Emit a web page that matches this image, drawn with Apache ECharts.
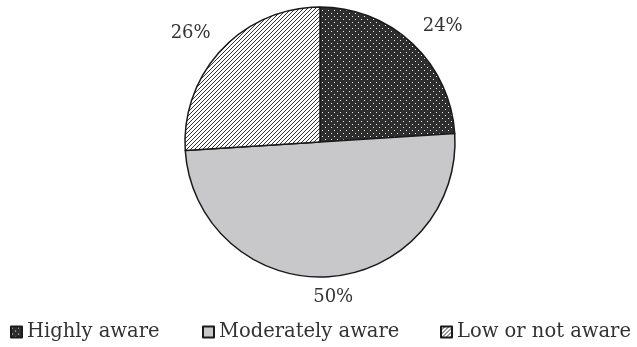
<!DOCTYPE html>
<html>
<head>
<meta charset="utf-8">
<script src="https://cdn.jsdelivr.net/npm/echarts@6/dist/echarts.min.js"></script>
<style>
  html, body { margin: 0; padding: 0; background: #fff; }
  #chart { width: 637px; height: 347px; }
</style>
</head>
<body>
<div id="chart"></div>
<script>
// Awareness levels and their shares (percent)
const categories = ['Highly aware', 'Moderately aware', 'Low or not aware'];
const shares = [24, 50, 26];

const FONT = 'DejaVu Serif';
const CENTER = [320, 142];
const RADIUS = 135;
const LABEL_GAP = 150; // distance from centre to the nearest corner of each value label

// Dotted dark fill
function dotPattern() {
  const c = document.createElement('canvas');
  c.width = 6; c.height = 6;
  const g = c.getContext('2d');
  g.fillStyle = '#2e2e2e';
  g.fillRect(0, 0, 6, 6);
  g.fillStyle = '#ececec';
  g.fillRect(1, 1, 1, 1);
  g.fillRect(4, 4, 1, 1);
  return c;
}

// Diagonal hatch fill
function hatchPattern() {
  const c = document.createElement('canvas');
  c.width = 4; c.height = 4;
  const g = c.getContext('2d');
  g.fillStyle = '#ffffff';
  g.fillRect(0, 0, 4, 4);
  g.strokeStyle = '#333';
  g.lineWidth = 1;
  g.beginPath();
  g.moveTo(-1, 5); g.lineTo(5, -1);
  g.moveTo(-1, 1); g.lineTo(1, -1);
  g.moveTo(3, 5); g.lineTo(5, 3);
  g.stroke();
  return c;
}

const fills = [
  { image: dotPattern(), repeat: 'repeat' },
  '#c8c8ca',
  { image: hatchPattern(), repeat: 'repeat' }
];

// Mid-angle of each slice, clockwise from 12 o'clock (radians)
const total = shares.reduce((a, b) => a + b, 0);
const midAngles = [];
{
  let acc = 0;
  shares.forEach(v => {
    midAngles.push(((acc + v / 2) / total) * Math.PI * 2);
    acc += v;
  });
}

const clamp = (v, lo, hi) => Math.max(lo, Math.min(hi, v));

// Place each value label just outside its slice, with the label's nearest
// corner sitting on the slice's mid ray.
function placeLabel(params) {
  const a = midAngles[params.dataIndex];
  const ux = Math.sin(a), uy = -Math.cos(a);
  const w = params.labelRect.width, h = params.labelRect.height;
  const x = CENTER[0] + LABEL_GAP * ux + clamp(ux * 3, -1, 1) * w / 2;
  const y = CENTER[1] + LABEL_GAP * uy + clamp(uy * 3, -1, 1) * (h / 2 - 3);
  return { x, y, align: 'center', verticalAlign: 'middle' };
}

const legendText = { fontFamily: FONT, fontSize: 19.5, color: '#333', padding: [0, 0, 0, 0] };
const legendAt = [10, 202, 440];

const chart = echarts.init(document.getElementById('chart'), null, { renderer: 'canvas' });
chart.setOption({
  animation: false,
  backgroundColor: '#ffffff',
  legend: categories.map((name, i) => ({
    left: legendAt[i],
    bottom: 5,
    padding: 0,
    icon: 'rect',
    itemWidth: 11,
    itemHeight: 11,
    textStyle: legendText,
    data: [name]
  })),
  series: [{
    type: 'pie',
    center: CENTER,
    radius: [0, RADIUS],
    startAngle: 90,
    clockwise: true,
    label: {
      show: true,
      position: 'outside',
      formatter: '{d}%',
      fontFamily: FONT,
      fontSize: 18,
      color: '#333'
    },
    labelLine: { show: false },
    labelLayout: placeLabel,
    itemStyle: { borderColor: '#1a1a1a', borderWidth: 1.5 },
    emphasis: { disabled: true },
    data: categories.map((name, i) => ({
      name,
      value: shares[i],
      itemStyle: { color: fills[i] }
    }))
  }]
});
</script>
</body>
</html>
